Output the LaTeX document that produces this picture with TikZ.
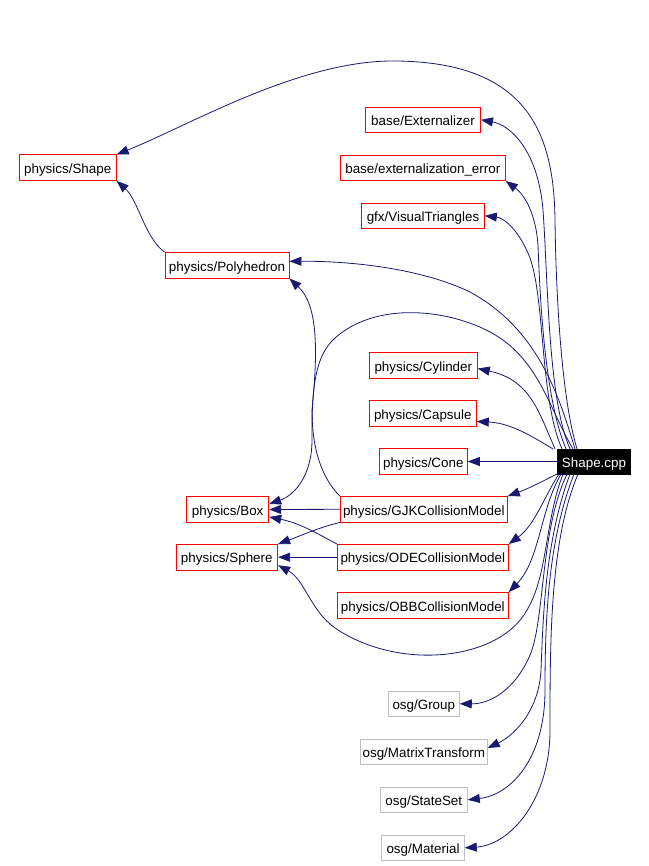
\documentclass[tikz,border=0pt]{standalone}
\usepackage{fontspec}
\setmainfont{Liberation Sans}
\usetikzlibrary{arrows.meta}
\definecolor{edgeblue}{HTML}{191970}
\definecolor{osggray}{HTML}{BFBFBF}
\begin{document}
\begin{tikzpicture}[x=1pt,y=-1pt,
  cls/.style={draw=red, line width=0.9pt, minimum height=25.5pt, inner sep=0pt,
    text height=15pt, text depth=3.5pt, font=\fontsize{13.4}{15}\selectfont, text=black},
  extcls/.style={cls, draw=osggray},
  maincls/.style={fill=black, draw=black, line width=0.5pt, text=white, minimum height=24.5pt, inner sep=0pt,
    text height=15pt, text depth=3.5pt, font=\fontsize{13.4}{15}\selectfont},
  edge/.style={draw=edgeblue, line width=0.8pt, -{Triangle[length=12pt,width=9pt]}}]
\useasboundingbox (0,0) rectangle (648,866);

% nodes
\node[cls, minimum width=97pt] (shape) at (67.7,167.7) {physics/Shape};
\node[cls, minimum width=124pt] (poly) at (227,265.3) {physics/Polyhedron};
\node[cls, minimum width=115pt] (extz) at (423,119.8) {base/Externalizer};
\node[cls, minimum width=165pt] (exterr) at (422.8,167.8) {base/externalization\_error};
\node[cls, minimum width=122.6pt] (vistri) at (423,215.8) {gfx/VisualTriangles};
\node[cls, minimum width=108pt] (cyl) at (423.3,365.5) {physics/Cylinder};
\node[cls, minimum width=107pt] (caps) at (422.8,413.5) {physics/Capsule};
\node[cls, minimum width=88pt] (cone) at (423.3,461.5) {physics/Cone};
\node[maincls, minimum width=73.4pt] (cpp) at (594,461.5) {Shape.cpp};
\node[cls, minimum width=167pt] (gjk) at (423.8,509.3) {physics/GJKCollisionModel};
\node[cls, minimum width=171pt] (ode) at (422.8,557.2) {physics/ODECollisionModel};
\node[cls, minimum width=171pt] (obb) at (422.8,605.3) {physics/OBBCollisionModel};
\node[cls, minimum width=82pt] (box) at (227.7,509.5) {physics/Box};
\node[cls, minimum width=101.7pt] (sphere) at (226.8,557.2) {physics/Sphere};
\node[extcls, minimum width=71pt] (group) at (423.8,703.8) {osg/Group};
\node[extcls, minimum width=127pt] (mtx) at (423.8,752) {osg/MatrixTransform};
\node[extcls, minimum width=87pt] (sset) at (423.8,799.8) {osg/StateSet};
\node[extcls, minimum width=82.6pt] (mat) at (423,847.8) {osg/Material};

% edges from Shape.cpp
\draw[edge] ([xshift=20pt]cpp.north west) .. controls (562,400) and (556,300) .. (555,220)
  .. controls (554,130) and (525,62) .. (395,61)
  .. controls (300,60) and (190,125) .. (shape.north east);
\draw[edge] ([xshift=13pt]cpp.north west) .. controls (548,400) and (548,280) .. (543,210)
  .. controls (538,150) and (510,125) .. (extz.east);
\draw[edge] ([xshift=9pt]cpp.north west) .. controls (545,400) and (540,300) .. (538,245)
  .. controls (536,215) and (525,195) .. (exterr.south east);
\draw[edge] ([xshift=5pt]cpp.north west) .. controls (540,400) and (545,300) .. (530,258)
  .. controls (520,232) and (505,218) .. (vistri.east);
\draw[edge] ([xshift=18pt]cpp.north west) .. controls (560,400) and (540,330) .. (470,292)
  .. controls (420,268) and (350,261) .. ([yshift=4pt]poly.east);
\draw[edge] ([xshift=16pt]cpp.north west) .. controls (550,410) and (540,365) .. (500,338)
  .. controls (460,311) and (380,298) .. (335,338)
  .. controls (312,358) and (312,400) .. (312,440)
  .. controls (312,475) and (295,495) .. ([yshift=5.5pt]box.east);
\draw[edge] ([xshift=-2pt]cpp.north west) .. controls (538,410) and (530,380) .. ([yshift=-3pt]cyl.east);
\draw[edge] ([xshift=-4pt]cpp.north west) .. controls (530,435) and (510,423) .. ([yshift=-8pt]caps.east);
\draw[edge] (cpp.west) -- (cone.east);
\draw[edge] (cpp.south west) .. controls (545,480) and (530,488) .. (gjk.north east);
\draw[edge] ([xshift=2pt]cpp.south west) .. controls (545,495) and (535,525) .. (ode.north east);
\draw[edge] ([xshift=4pt]cpp.south west) .. controls (540,510) and (540,560) .. (obb.north east);
\draw[edge] ([xshift=6pt]cpp.south west) .. controls (545,520) and (548,575) .. (527,610)
  .. controls (500,660) and (400,672) .. (335,628)
  .. controls (310,610) and (305,580) .. ([yshift=-8pt]sphere.east);
\draw[edge] ([xshift=10pt]cpp.south west) .. controls (540,530) and (545,620) .. (530,655)
  .. controls (515,690) and (490,704) .. (group.east);
\draw[edge] ([xshift=13pt]cpp.south west) .. controls (545,540) and (543,620) .. (541,670)
  .. controls (539,710) and (515,735) .. ([yshift=4pt]mtx.east);
\draw[edge] ([xshift=17pt]cpp.south west) .. controls (548,540) and (545,620) .. (545,690)
  .. controls (545,760) and (510,795) .. (sset.east);
\draw[edge] ([xshift=21pt]cpp.south west) .. controls (550,540) and (550,640) .. (550,730)
  .. controls (550,800) and (510,845) .. (mat.east);

% edges among the left nodes
\draw[edge] (poly.north west) .. controls (145,238) and (138,200) .. (shape.south east);
\draw[edge] (gjk.north west) .. controls (322,478) and (312,450) .. (312,410)
  .. controls (318,350) and (318,305) .. (poly.south east);
\draw[edge] (gjk.west) -- (box.east);
\draw[edge] (gjk.south west) .. controls (320,527) and (300,536) .. (sphere.north east);
\draw[edge] (ode.north west) .. controls (320,535) and (300,523) .. ([yshift=-7.5pt]box.east);
\draw[edge] (ode.west) -- (sphere.east);
\end{tikzpicture}
\end{document}
